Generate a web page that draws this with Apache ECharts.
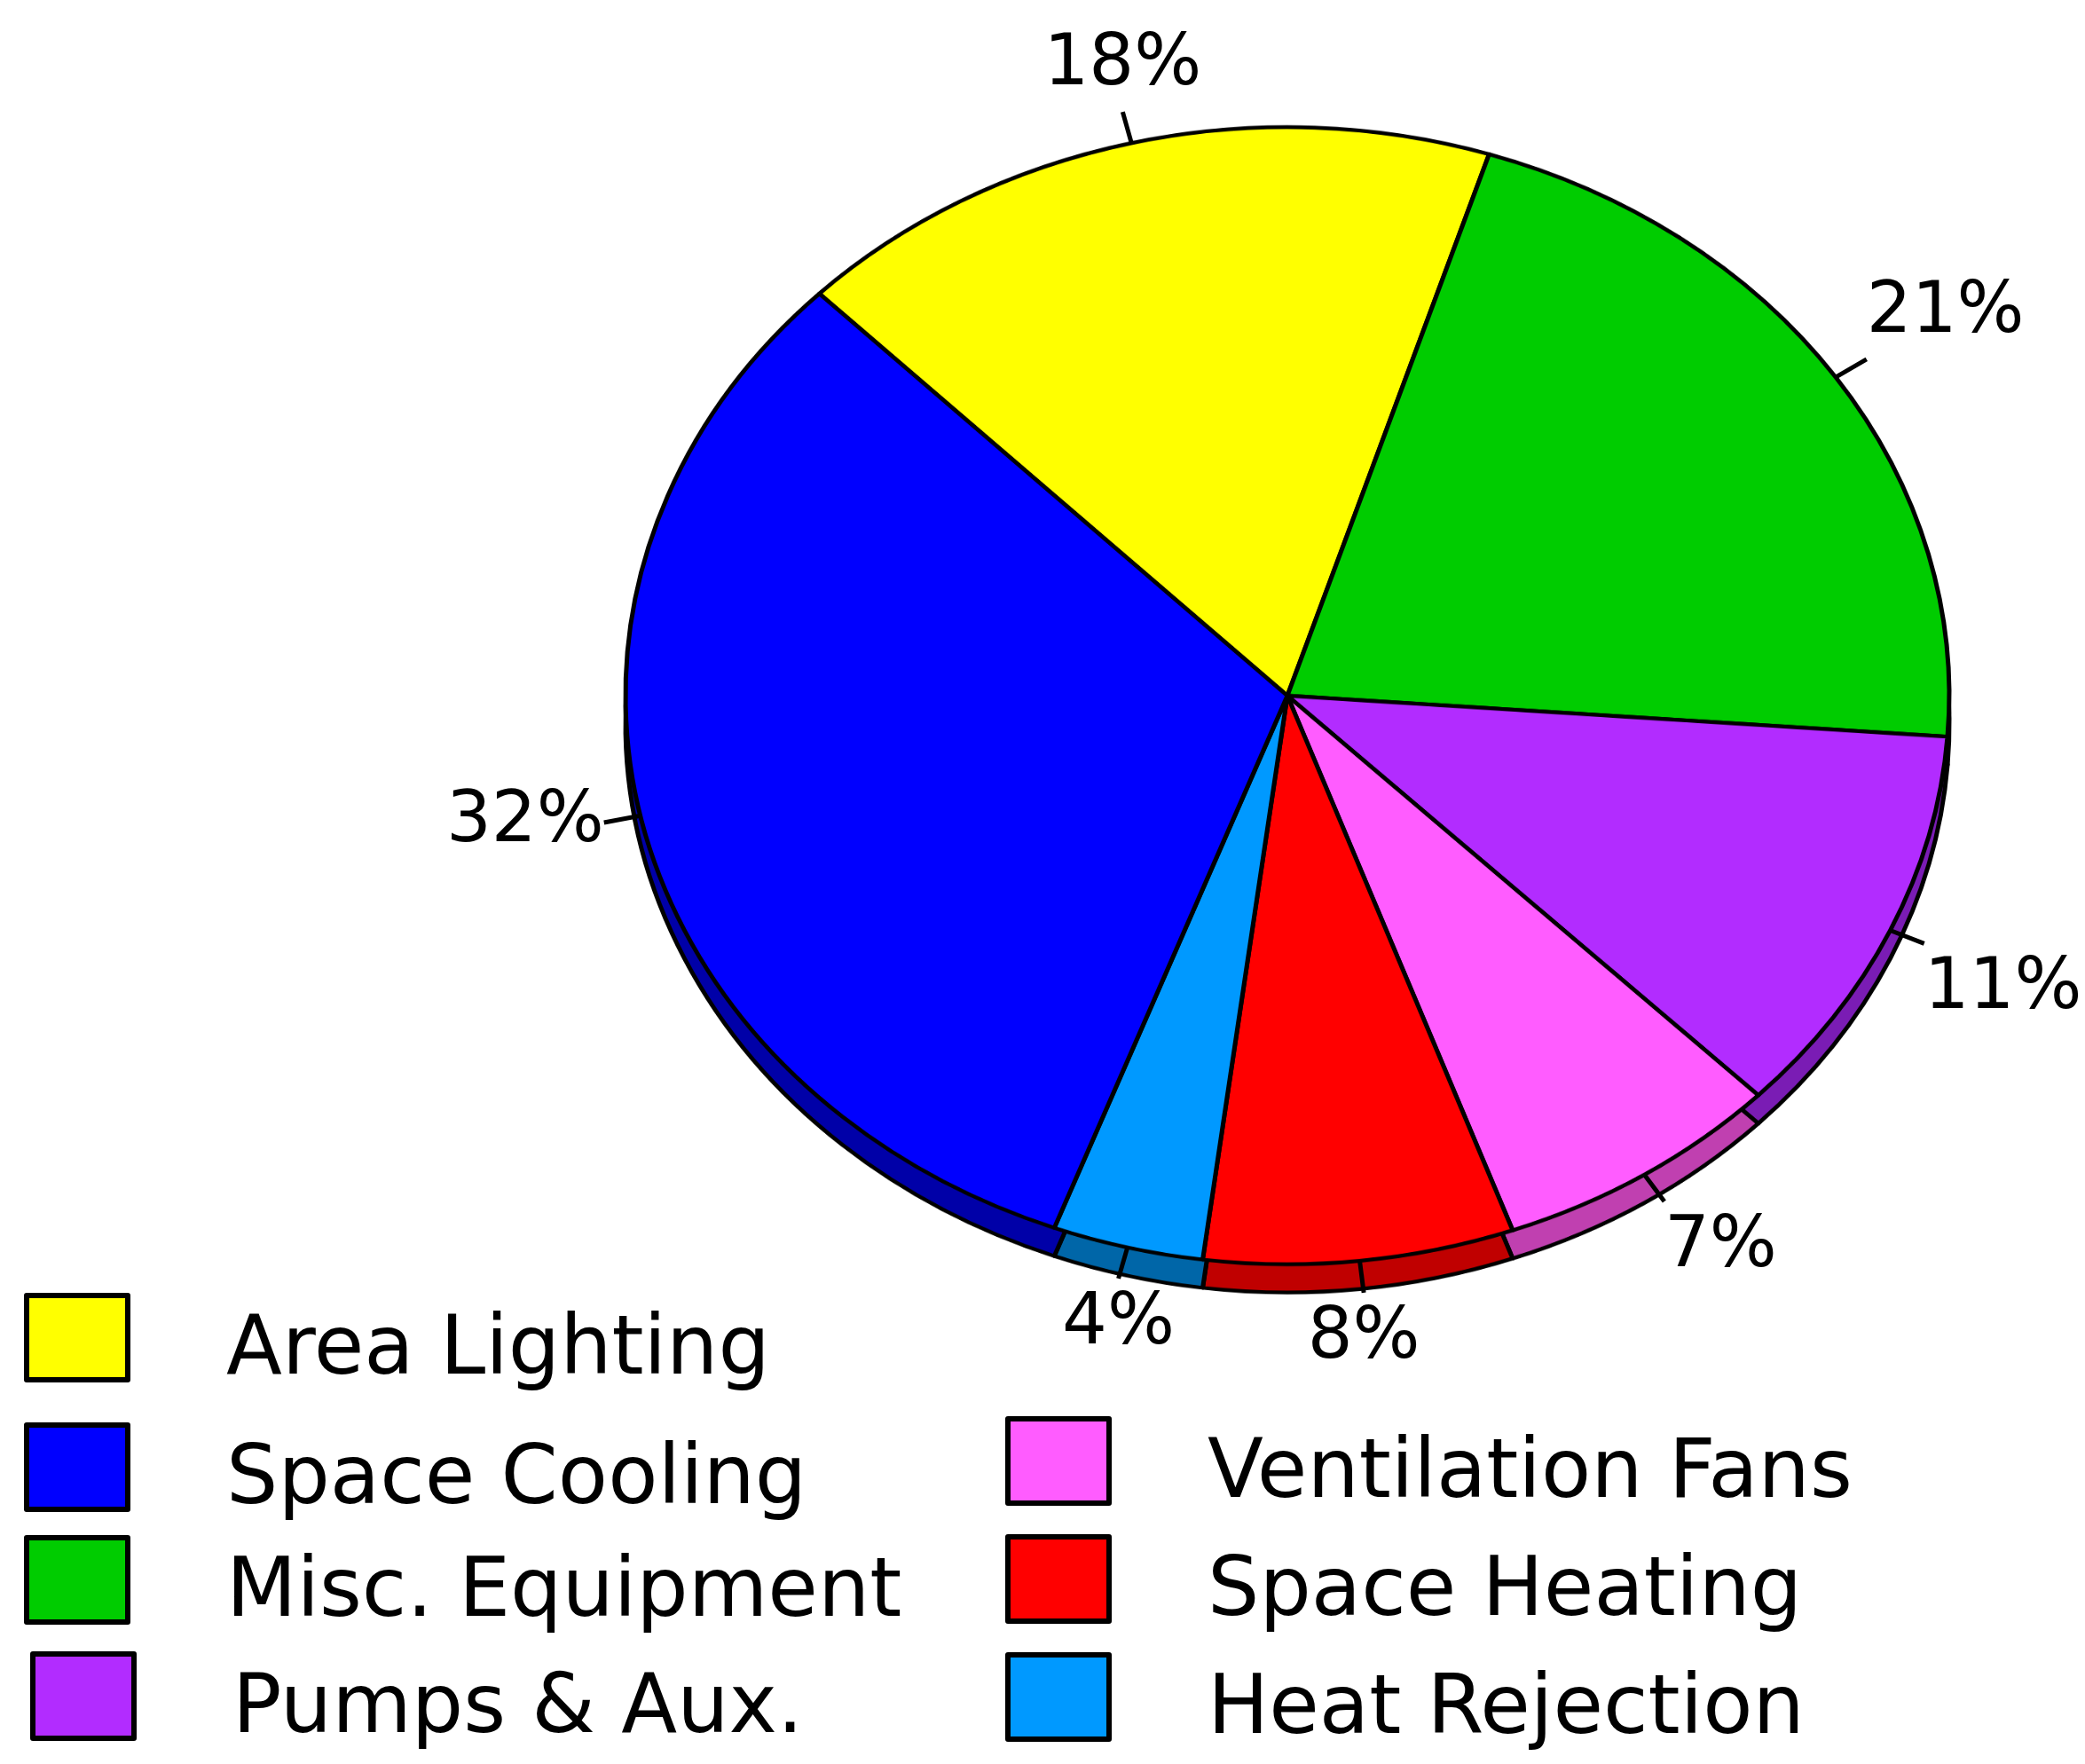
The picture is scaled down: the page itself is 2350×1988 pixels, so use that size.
<!DOCTYPE html>
<html>
<head>
<meta charset="utf-8">
<script src="https://cdn.jsdelivr.net/npm/echarts@6/dist/echarts.min.js"></script>
<style>
  html, body { margin: 0; padding: 0; background: #fff; }
  .layer { position: absolute; left: 0; top: 0; width: 2350px; height: 1988px; }
  /* the pie is tilted: squash it vertically around its centre */
  #pie { transform: scaleY(0.859); transform-origin: 1451px 784px; }
</style>
</head>
<body>
<div id="pie" class="layer"></div>
<div id="labels" class="layer"></div>
<script>
// slices in clockwise order, starting at upper left
const categories = ['Area Lighting', 'Misc. Equipment', 'Pumps & Aux.', 'Ventilation Fans', 'Space Heating', 'Heat Rejection', 'Space Cooling']
const shares = [17.5, 21.3, 11.3, 7.1, 7.6, 3.7, 31.9]
const topColors = ['#FFFF00', '#00CC00', '#B22CFF', '#FF5CFF', '#FF0000', '#0099FF', '#0000FF']
const sideColors = ['#A0A000', '#008800', '#7A1CB4', '#C040B0', '#C00000', '#0066A8', '#0000A8']
const legendOrder = ['Area Lighting', 'Space Cooling', 'Misc. Equipment', 'Pumps & Aux.', 'Ventilation Fans', 'Space Heating', 'Heat Rejection']

// outer corner of each legend swatch
const legendPos = {
  'Area Lighting': [24, 1457],
  'Space Cooling': [24, 1603],
  'Misc. Equipment': [24, 1730],
  'Pumps & Aux.': [31, 1861],
  'Ventilation Fans': [1130, 1596],
  'Space Heating': [1130, 1729],
  'Heat Rejection': [1130, 1862]
}

const cx = 1451
const cy = 784
const R = 746
const squash = 0.859
const START = 135
const FONT = 'DejaVu Sans'
const SPACER = 34 // pushes legend text a little below the swatch centre

const pieChart = echarts.init(document.getElementById('pie'))
const labelChart = echarts.init(document.getElementById('labels'))

const makeData = colors => categories.map((name, i) => ({
  name,
  value: shares[i],
  itemStyle: { color: colors[i] }
}))

pieChart.setOption({
  animation: false,
  series: [
    // thickness of the disc, seen below the top face
    {
      type: 'pie',
      silent: true,
      startAngle: START,
      center: [cx, cy + 37],
      radius: R,
      data: makeData(sideColors),
      label: { show: false },
      labelLine: { show: false },
      itemStyle: { borderColor: '#000', borderWidth: 5 },
      z: 1
    },
    {
      type: 'pie',
      silent: true,
      startAngle: START,
      center: [cx, cy],
      radius: R,
      data: makeData(topColors),
      label: { show: false },
      labelLine: { show: false },
      itemStyle: { borderColor: '#000', borderWidth: 5 },
      z: 2
    }
  ]
})

// same pie, invisible, only for the percent labels (not squashed)
const labelLayout = params => {
  const raw = params.labelLinePoints
  const pts = raw.map(p => [p[0], cy + (p[1] - cy) * squash])
  let dx = raw[1][0] - raw[0][0]
  let dy = raw[1][1] - raw[0][1]
  const len = Math.hypot(dx, dy) || 1
  dx /= len
  dy /= len
  const w = params.labelRect.width
  const ox = Math.abs(dx) > 0.4 ? Math.sign(dx) * (w / 2) : 0
  const oy = Math.abs(dy) > 0.3 ? Math.sign(dy) * 52 : 0
  return {
    x: pts[1][0] + ox,
    y: pts[1][1] + oy,
    align: 'center',
    verticalAlign: 'middle',
    labelLinePoints: pts
  }
}

labelChart.setOption({
  animation: false,
  legend: legendOrder.map(name => ({
    data: [{ name, itemStyle: { color: topColors[categories.indexOf(name)] } }],
    left: legendPos[name][0] + 3,
    top: legendPos[name][1] + 3 - SPACER / 2,
    orient: 'vertical',
    padding: 0,
    icon: 'rect',
    itemWidth: 114,
    itemHeight: 95,
    selectedMode: false,
    itemStyle: { borderColor: '#000', borderWidth: 6, opacity: 1 },
    formatter: n => '{gap| }\n{t|' + n + '}',
    textStyle: {
      color: '#000',
      rich: {
        gap: { height: SPACER, lineHeight: SPACER, fontSize: 10 },
        t: {
          fontSize: 92,
          fontFamily: FONT,
          color: '#000',
          lineHeight: 95,
          padding: [0, 0, 0, 106]
        }
      }
    }
  })),
  series: [
    {
      type: 'pie',
      silent: true,
      startAngle: START,
      center: [cx, cy],
      radius: R,
      avoidLabelOverlap: false,
      data: categories.map((name, i) => ({
        name,
        value: shares[i],
        itemStyle: { color: 'rgba(0,0,0,0)' }
      })),
      label: {
        show: true,
        position: 'outside',
        formatter: p => Math.round(p.value) + '%',
        color: '#000',
        fontSize: 80,
        fontFamily: FONT
      },
      labelLine: {
        show: true,
        length: 42,
        length2: 0,
        lineStyle: { color: '#000', width: 5 }
      },
      labelLayout
    }
  ]
})
</script>
</body>
</html>
